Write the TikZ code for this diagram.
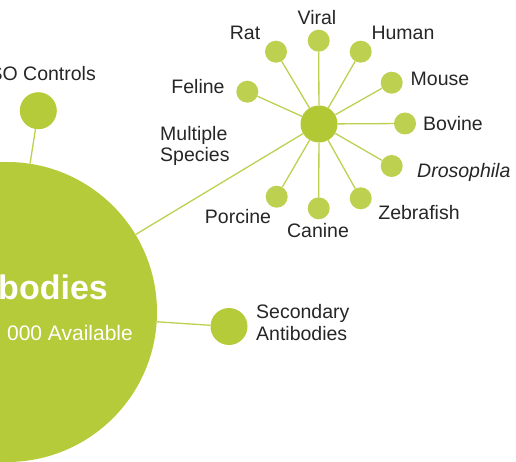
\documentclass[tikz,border=0pt]{standalone}
\usepackage{fontspec}
\setmainfont{Liberation Sans}
\definecolor{bigc}{HTML}{B5CB3A}
\definecolor{hubc}{HTML}{B2C834}
\definecolor{satc}{HTML}{BDD050}
\definecolor{linec}{HTML}{BDD050}
\definecolor{txt}{HTML}{262626}
\begin{document}
\begin{tikzpicture}[x=1pt,y=-1pt,
  sat/.style={circle,fill=satc,draw=none,minimum size=22pt,inner sep=0pt},
  mid/.style={circle,fill=bigc,draw=none,minimum size=37pt,inner sep=0pt},
  lbl/.style={text=txt,font=\fontsize{19.5}{21}\selectfont,inner sep=0pt},
  conn/.style={draw=linec,line width=1.3pt}]
\useasboundingbox (0,0) rectangle (516,462);
\begin{scope}
\clip (0,0) rectangle (516,462);
% main circle
\node[circle,fill=bigc,minimum size=300pt,inner sep=0pt] (big) at (7,312) {};
\node[mid] (iso) at (38.3,110.7) {};
\node[mid] (sec) at (229,326.5) {};
\node[mid,fill=hubc] (hub) at (319,124) {};
\node[sat] (viral) at (318.7,40.7) {};
\node[sat] (rat) at (276,51.7) {};
\node[sat] (human) at (360.7,51.7) {};
\node[sat] (feline) at (247.3,91.7) {};
\node[sat] (mouse) at (391.7,82.7) {};
\node[sat] (bovine) at (405,123.5) {};
\node[sat] (dros) at (391.7,166) {};
\node[sat] (zebra) at (360.7,198.3) {};
\node[sat] (canine) at (318.7,208.3) {};
\node[sat] (porcine) at (276.7,196.7) {};
% connectors
\foreach \s in {viral,rat,human,feline,mouse,bovine,dros,zebra,canine,porcine}
  \draw[conn] (hub) -- (\s);
\draw[conn] (hub) -- (big);
\draw[conn] (iso) -- (big);
\draw[conn] (sec) -- (big);
% labels
\node[lbl] (tviral) at (317,18) {Viral};
\node[lbl] (trat) at (245,33) {Rat};
\node[lbl] (thuman) at (403,33) {Human};
\node[lbl] (tfeline) at (198,87) {Feline};
\node[lbl] (tmouse) at (440,79) {Mouse};
\node[lbl] (tbovine) at (453,124) {Bovine};
\node[lbl,anchor=west] (tdros) at (417,172.5) {\itshape Drosophila};
\node[lbl] (tzebra) at (419,213) {Zebrafish};
\node[lbl] (tcanine) at (318,231) {Canine};
\node[lbl] (tporcine) at (238,217) {Porcine};
\node[lbl,anchor=west,align=left,font=\fontsize{19.5}{21.5}\selectfont] (tmult) at (160,146) {Multiple\\Species};
\node[lbl,anchor=west,align=left,font=\fontsize{19.5}{21.5}\selectfont] (tsec) at (256,322.5) {Secondary\\Antibodies};
\node[lbl,anchor=east] (tiso) at (96,74) {ISO Controls};
\node[inner sep=0pt,anchor=base east,text=white,font=\fontsize{34}{36}\selectfont\bfseries] (tbig) at (108,299) {Antibodies};
\node[inner sep=0pt,anchor=base east,text=white,font=\fontsize{21}{23}\selectfont] (tavail) at (133,340.5) {000 Available};
\end{scope}
\end{tikzpicture}
\end{document}
